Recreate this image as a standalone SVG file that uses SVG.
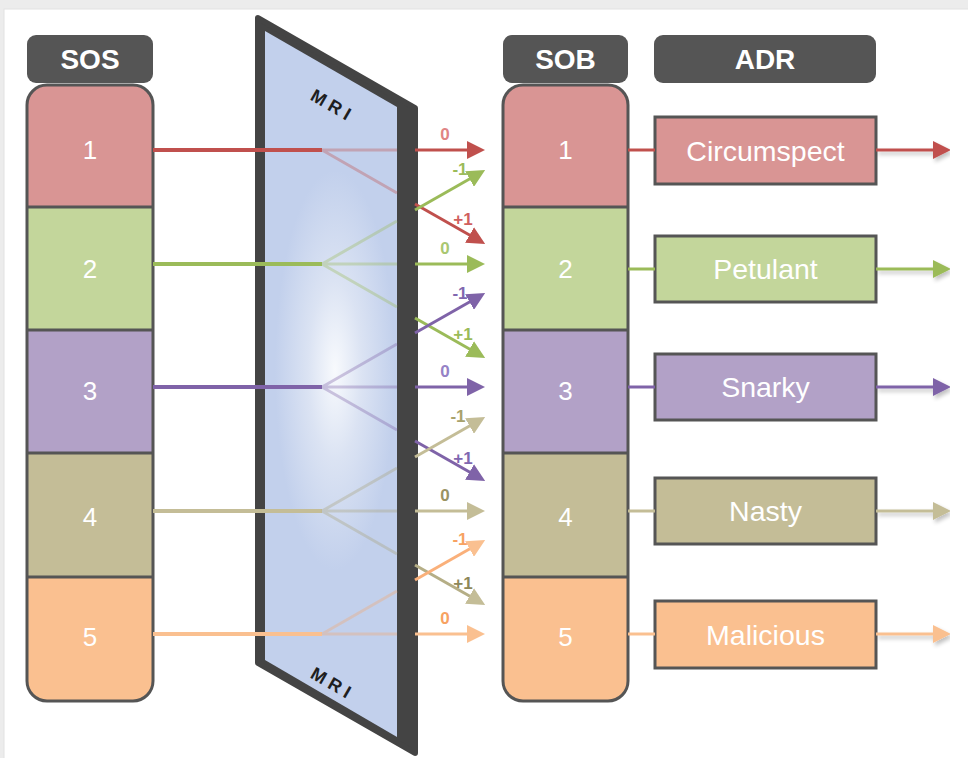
<svg xmlns="http://www.w3.org/2000/svg" width="968" height="758" viewBox="0 0 968 758">
<style>
  .hdr{fill:#555555}
  .hdrt{font-family:"Liberation Sans",Arial,sans-serif;font-weight:bold;font-size:28px;fill:#ffffff;text-anchor:middle}
  .num{font-family:"Liberation Sans",Arial,sans-serif;font-size:26px;fill:#ffffff;text-anchor:middle}
  .adrt{font-family:"Liberation Sans",Arial,sans-serif;font-size:28.5px;fill:#ffffff;text-anchor:middle}
  .lbl{font-family:"Liberation Sans",Arial,sans-serif;font-weight:bold;font-size:17px;text-anchor:middle}
  .mri{font-family:"Liberation Sans",Arial,sans-serif;font-weight:bold;font-size:18px;fill:#1e1e1e;letter-spacing:5px;text-anchor:middle}
  .seg{stroke:#555555;stroke-width:3}
  .outline{fill:none;stroke:#555555;stroke-width:3}
  .adrbox{stroke:#555555;stroke-width:3}
  .in{stroke-width:4;fill:none}
  .out{stroke-width:3;fill:none}
  .faint{stroke-width:3;fill:none;opacity:0.35}
</style>
<defs>
  <marker id="mR" markerUnits="userSpaceOnUse" viewBox="0 0 18 18" refX="4" refY="9" markerWidth="18" markerHeight="18" orient="auto"><path d="M0,0 L18,9 L0,18 z" fill="#c0504d"/></marker>
  <marker id="mG" markerUnits="userSpaceOnUse" viewBox="0 0 18 18" refX="4" refY="9" markerWidth="18" markerHeight="18" orient="auto"><path d="M0,0 L18,9 L0,18 z" fill="#9bbb59"/></marker>
  <marker id="mP" markerUnits="userSpaceOnUse" viewBox="0 0 18 18" refX="4" refY="9" markerWidth="18" markerHeight="18" orient="auto"><path d="M0,0 L18,9 L0,18 z" fill="#7f63a8"/></marker>
  <marker id="mO" markerUnits="userSpaceOnUse" viewBox="0 0 18 18" refX="4" refY="9" markerWidth="18" markerHeight="18" orient="auto"><path d="M0,0 L18,9 L0,18 z" fill="#c4bd97"/></marker>
  <marker id="mY" markerUnits="userSpaceOnUse" viewBox="0 0 18 18" refX="4" refY="9" markerWidth="18" markerHeight="18" orient="auto"><path d="M0,0 L18,9 L0,18 z" fill="#fac090"/></marker>
  <radialGradient id="glow" cx="335" cy="370" r="200" gradientUnits="userSpaceOnUse" gradientTransform="translate(335 370) scale(0.3 1.0) translate(-335 -370)">
    <stop offset="0" stop-color="#f8fafd"/>
    <stop offset="0.45" stop-color="#dbe3f3"/>
    <stop offset="1" stop-color="#c2d0ec"/>
  </radialGradient>
  <clipPath id="colSOS"><rect x="27" y="85" width="126" height="616" rx="20"/></clipPath>
  <clipPath id="colSOB"><rect x="503" y="85" width="125" height="616" rx="20"/></clipPath>
  <filter id="sh" x="-10%" y="-30%" width="130%" height="180%"><feGaussianBlur in="SourceAlpha" stdDeviation="2"/><feOffset dx="2" dy="3"/><feComponentTransfer><feFuncA type="linear" slope="0.25"/></feComponentTransfer><feMerge><feMergeNode/><feMergeNode in="SourceGraphic"/></feMerge></filter>
</defs>

<rect x="0" y="0" width="968" height="758" fill="#ececec"/>
<rect x="4" y="9" width="968" height="752" fill="#ffffff" stroke="#e2e2e2" stroke-width="1"/>

<!-- SOS column -->
<g id="sos">
  <rect class="hdr" x="27" y="35" width="126" height="48" rx="9"/>
  <text class="hdrt" x="90" y="69">SOS</text>
  <g clip-path="url(#colSOS)">
    <rect x="27" y="85" width="126" height="122" fill="#d99594"/>
    <rect x="27" y="207" width="126" height="123" fill="#c3d69b"/>
    <rect x="27" y="330" width="126" height="123" fill="#b2a1c7"/>
    <rect x="27" y="453" width="126" height="124" fill="#c4bd97"/>
    <rect x="27" y="577" width="126" height="124" fill="#fac090"/>
    <line class="seg" x1="27" y1="207" x2="153" y2="207"/>
    <line class="seg" x1="27" y1="330" x2="153" y2="330"/>
    <line class="seg" x1="27" y1="453" x2="153" y2="453"/>
    <line class="seg" x1="27" y1="577" x2="153" y2="577"/>
  </g>
  <rect class="outline" x="27" y="85" width="126" height="616" rx="20"/>
  <text class="num" x="90" y="159">1</text>
  <text class="num" x="90" y="278">2</text>
  <text class="num" x="90" y="400">3</text>
  <text class="num" x="90" y="526">4</text>
  <text class="num" x="90" y="646">5</text>
</g>

<!-- SOB column -->
<g id="sob">
  <rect class="hdr" x="503" y="35" width="125" height="48" rx="9"/>
  <text class="hdrt" x="565.5" y="69">SOB</text>
  <g clip-path="url(#colSOB)">
    <rect x="503" y="85" width="125" height="122" fill="#d99594"/>
    <rect x="503" y="207" width="125" height="123" fill="#c3d69b"/>
    <rect x="503" y="330" width="125" height="123" fill="#b2a1c7"/>
    <rect x="503" y="453" width="125" height="124" fill="#c4bd97"/>
    <rect x="503" y="577" width="125" height="124" fill="#fac090"/>
    <line class="seg" x1="503" y1="207" x2="628" y2="207"/>
    <line class="seg" x1="503" y1="330" x2="628" y2="330"/>
    <line class="seg" x1="503" y1="453" x2="628" y2="453"/>
    <line class="seg" x1="503" y1="577" x2="628" y2="577"/>
  </g>
  <rect class="outline" x="503" y="85" width="125" height="616" rx="20"/>
  <text class="num" x="565.5" y="159">1</text>
  <text class="num" x="565.5" y="278">2</text>
  <text class="num" x="565.5" y="400">3</text>
  <text class="num" x="565.5" y="526">4</text>
  <text class="num" x="565.5" y="646">5</text>
</g>

<!-- MRI panel -->
<g id="mri">
  <path d="M258,18 L415,108 L415,753 L258,663 Z" fill="#444444" stroke="#444444" stroke-width="6" stroke-linejoin="round"/>
  <path d="M265,31 L397,107 L397,737 L265,660 Z" fill="url(#glow)"/>
  <text class="mri" transform="translate(333 106) rotate(30)" x="0" y="6">MRI</text>
  <text class="mri" transform="translate(333 684) rotate(30)" x="0" y="6">MRI</text>
</g>

<!-- ADR -->
<g id="adr-header">
  <rect class="hdr" x="654" y="35" width="222" height="48" rx="9"/>
  <text class="hdrt" x="765" y="69">ADR</text>
</g>
<g id="adr1"><rect class="adrbox" x="655" y="117" width="221" height="67" fill="#d99594"/><text class="adrt" x="765.5" y="161">Circumspect</text></g>
<g id="adr2"><rect class="adrbox" x="655" y="236" width="221" height="66" fill="#c3d69b"/><text class="adrt" x="765.5" y="279">Petulant</text></g>
<g id="adr3"><rect class="adrbox" x="655" y="354" width="221" height="66" fill="#b2a1c7"/><text class="adrt" x="765.5" y="397">Snarky</text></g>
<g id="adr4"><rect class="adrbox" x="655" y="478" width="221" height="66" fill="#c4bd97"/><text class="adrt" x="765.5" y="521">Nasty</text></g>
<g id="adr5"><rect class="adrbox" x="655" y="601" width="221" height="67" fill="#fac090"/><text class="adrt" x="765.5" y="645">Malicious</text></g>

<!-- connectors -->
<g id="connectors">
  <!-- inputs -->
  <line class="in" x1="153" y1="150" x2="322" y2="150" stroke="#c0504d"/>
  <line class="in" x1="153" y1="264" x2="322" y2="264" stroke="#9bbb59"/>
  <line class="in" x1="153" y1="387" x2="322" y2="387" stroke="#7f63a8"/>
  <line class="in" x1="153" y1="511" x2="322" y2="511" stroke="#c4bd97"/>
  <line class="in" x1="153" y1="634" x2="322" y2="634" stroke="#fac090"/>

  <!-- faint fans on panel -->
  <g class="faint">
    <path d="M322,150 L397,150 M322,150 L397,193" stroke="#c0504d"/>
    <path d="M322,264 L397,264 M322,264 L397,221 M322,264 L397,307" stroke="#9bbb59"/>
    <path d="M322,387 L397,387 M322,387 L397,344 M322,387 L397,430" stroke="#7f63a8"/>
    <path d="M322,511 L397,511 M322,511 L397,468 M322,511 L397,554" stroke="#a8a27a"/>
    <path d="M322,634 L397,634 M322,634 L397,591" stroke="#f5a86e"/>
  </g>

  <!-- outputs row 1 -->
  <line class="out" x1="415" y1="150" x2="471" y2="150" stroke="#c0504d" marker-end="url(#mR)"/>
  <line class="out" x1="415" y1="204" x2="473" y2="237" stroke="#c0504d" marker-end="url(#mR)"/>
  <!-- row 2 -->
  <line class="out" x1="415" y1="210" x2="473" y2="177" stroke="#9bbb59" marker-end="url(#mG)"/>
  <line class="out" x1="415" y1="264" x2="471" y2="264" stroke="#9bbb59" marker-end="url(#mG)"/>
  <line class="out" x1="415" y1="318" x2="473" y2="351" stroke="#9bbb59" marker-end="url(#mG)"/>
  <!-- row 3 -->
  <line class="out" x1="415" y1="333" x2="473" y2="300" stroke="#7f63a8" marker-end="url(#mP)"/>
  <line class="out" x1="415" y1="387" x2="471" y2="387" stroke="#7f63a8" marker-end="url(#mP)"/>
  <line class="out" x1="415" y1="441" x2="473" y2="474" stroke="#7f63a8" marker-end="url(#mP)"/>
  <!-- row 4 -->
  <line class="out" x1="415" y1="457" x2="473" y2="424" stroke="#c4bd97" marker-end="url(#mO)"/>
  <line class="out" x1="415" y1="511" x2="471" y2="511" stroke="#c4bd97" marker-end="url(#mO)"/>
  <line class="out" x1="415" y1="565" x2="473" y2="598" stroke="#b5ae86" marker-end="url(#mO)"/>
  <!-- row 5 -->
  <line class="out" x1="415" y1="580" x2="473" y2="547" stroke="#fab07a" marker-end="url(#mY)"/>
  <line class="out" x1="415" y1="634" x2="471" y2="634" stroke="#fac090" marker-end="url(#mY)"/>

  <!-- SOB to ADR -->
  <line class="out" x1="628" y1="150" x2="655" y2="150" stroke="#c0504d"/>
  <line class="out" x1="628" y1="269" x2="655" y2="269" stroke="#9bbb59"/>
  <line class="out" x1="628" y1="387" x2="655" y2="387" stroke="#7f63a8"/>
  <line class="out" x1="628" y1="511" x2="655" y2="511" stroke="#c4bd97"/>
  <line class="out" x1="628" y1="634" x2="655" y2="634" stroke="#fac090"/>

  <!-- ADR outputs -->
  <g filter="url(#sh)">
    <line class="out" x1="876" y1="150" x2="937" y2="150" stroke="#c0504d" marker-end="url(#mR)"/>
    <line class="out" x1="876" y1="269" x2="937" y2="269" stroke="#9bbb59" marker-end="url(#mG)"/>
    <line class="out" x1="876" y1="387" x2="937" y2="387" stroke="#7f63a8" marker-end="url(#mP)"/>
    <line class="out" x1="876" y1="511" x2="937" y2="511" stroke="#c4bd97" marker-end="url(#mO)"/>
    <line class="out" x1="876" y1="634" x2="937" y2="634" stroke="#fac090" marker-end="url(#mY)"/>
  </g>

  <!-- labels -->
  <text class="lbl" x="445" y="140" fill="#e08584">0</text>
  <text class="lbl" x="463" y="225" fill="#d0605e">+1</text>
  <text class="lbl" x="460" y="175" fill="#9bbb59">-1</text>
  <text class="lbl" x="445" y="254" fill="#a9c771">0</text>
  <text class="lbl" x="463" y="340" fill="#9bbb59">+1</text>
  <text class="lbl" x="460" y="299" fill="#8067b0">-1</text>
  <text class="lbl" x="445" y="377" fill="#9582c6">0</text>
  <text class="lbl" x="463" y="464" fill="#8067b0">+1</text>
  <text class="lbl" x="458" y="422" fill="#a8a26c">-1</text>
  <text class="lbl" x="445" y="501" fill="#9a9362">0</text>
  <text class="lbl" x="463" y="589" fill="#8d8758">+1</text>
  <text class="lbl" x="460" y="545" fill="#f7a262">-1</text>
  <text class="lbl" x="445" y="624" fill="#f7a262">0</text>
</g>
</svg>
